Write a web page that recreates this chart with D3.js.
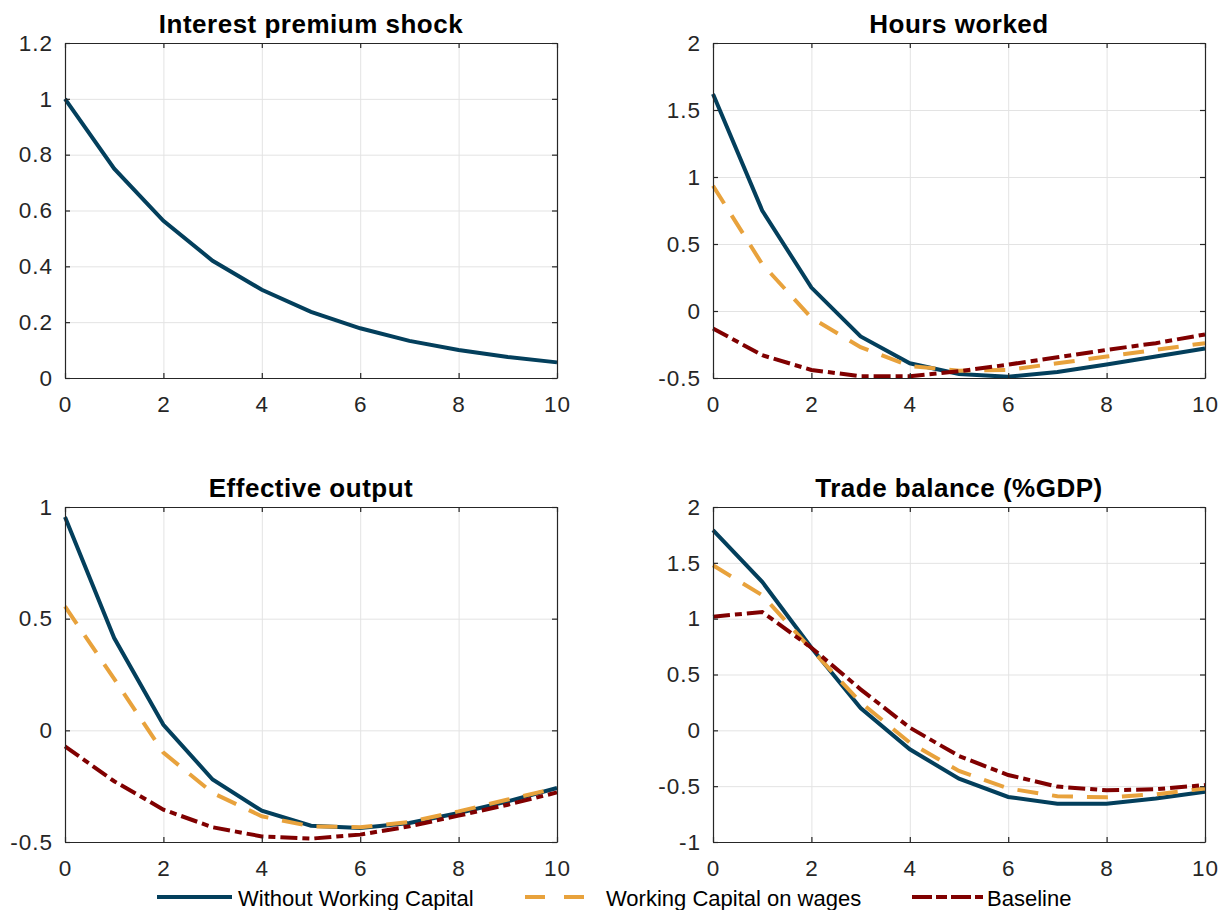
<!DOCTYPE html>
<html>
<head>
<meta charset="utf-8">
<script src="https://cdn.jsdelivr.net/npm/d3@7"></script>
<style>
  body { margin: 0; background: #fff; }
  svg { font-family: "Liberation Sans", Arial, sans-serif; }
</style>
</head>
<body>
<svg id="canvas"></svg>
<script>
const WIDTH = 1228;
const HEIGHT = 910;

// quarters after the shock
const periods = [0, 1, 2, 3, 4, 5, 6, 7, 8, 9, 10];
const xTicks = [0, 2, 4, 6, 8, 10];

const panelTitles = ["Interest premium shock", "Hours worked", "Effective output", "Trade balance (%GDP)"];
const seriesNames = ["Without Working Capital", "Working Capital on wages", "Baseline"];

const premiumShock = [1, 0.75, 0.563, 0.42, 0.316, 0.237, 0.178, 0.133, 0.1, 0.075, 0.056];

const hoursNoWC = [1.62, 0.75, 0.175, -0.19, -0.39, -0.47, -0.49, -0.455, -0.4, -0.34, -0.28];
const hoursWCWages = [0.935, 0.35, -0.05, -0.27, -0.41, -0.445, -0.44, -0.39, -0.34, -0.29, -0.24];
const hoursBaseline = [-0.13, -0.33, -0.44, -0.487, -0.487, -0.45, -0.4, -0.345, -0.29, -0.24, -0.175];

const outputNoWC = [0.955, 0.413, 0.025, -0.22, -0.36, -0.427, -0.437, -0.415, -0.37, -0.318, -0.258];
const outputWCWages = [0.555, 0.23, -0.1, -0.28, -0.385, -0.43, -0.434, -0.41, -0.363, -0.31, -0.258];
const outputBaseline = [-0.072, -0.228, -0.355, -0.434, -0.475, -0.485, -0.467, -0.43, -0.382, -0.333, -0.278];

const tradeNoWC = [1.794, 1.33, 0.74, 0.2, -0.17, -0.433, -0.597, -0.657, -0.657, -0.61, -0.55];
const tradeWCWages = [1.478, 1.21, 0.725, 0.25, -0.11, -0.364, -0.52, -0.59, -0.6, -0.573, -0.52];
const tradeBaseline = [1.018, 1.06, 0.74, 0.367, 0.024, -0.23, -0.4, -0.504, -0.537, -0.528, -0.49];

const premiumTicks = [0, 0.2, 0.4, 0.6, 0.8, 1, 1.2];
const hoursTicks = [-0.5, 0, 0.5, 1, 1.5, 2];
const outputTicks = [-0.5, 0, 0.5, 1];
const tradeTicks = [-1, -0.5, 0, 0.5, 1, 1.5, 2];

const COLORS = ["#033f5c", "#e8a23c", "#800000"];
const DASHES = [null, "21,14", "17,5,7,5"];

const panels = [
  { title: panelTitles[0], ticks: premiumTicks, series: [premiumShock], x0: 65, y0: 43 },
  { title: panelTitles[1], ticks: hoursTicks, series: [hoursNoWC, hoursWCWages, hoursBaseline], x0: 713, y0: 43 },
  { title: panelTitles[2], ticks: outputTicks, series: [outputNoWC, outputWCWages, outputBaseline], x0: 65, y0: 507 },
  { title: panelTitles[3], ticks: tradeTicks, series: [tradeNoWC, tradeWCWages, tradeBaseline], x0: 713, y0: 507 },
];
const PW = 492;
const PH = 335;

const canvas = d3.select("#canvas").attr("width", WIDTH).attr("height", HEIGHT);
canvas.append("rect").attr("width", WIDTH).attr("height", HEIGHT).attr("fill", "#fff");

const fmt = (d) => String(d);

const drawPanel = (p) => {
  const g = canvas.append("g").attr("transform", `translate(${p.x0},${p.y0})`);
  const xScale = d3.scaleLinear().domain([0, 10]).range([0, PW]);
  const yScale = d3.scaleLinear().domain(d3.extent(p.ticks)).range([PH, 0]);

  // grid
  g.append("g")
    .attr("class", "grid")
    .call(d3.axisBottom(xScale).tickValues(xTicks).tickSize(PH).tickFormat(""))
    .call((s) => s.select(".domain").remove());
  g.append("g")
    .attr("class", "grid")
    .call(d3.axisLeft(yScale).tickValues(p.ticks).tickSize(-PW).tickFormat(""))
    .call((s) => s.select(".domain").remove());
  g.selectAll(".grid line").attr("stroke", "#e3e3e3").attr("stroke-width", 1);

  // series
  const line = d3.line().x((d, i) => xScale(periods[i])).y((d) => yScale(d));
  p.series.forEach((vals, k) => {
    g.append("path")
      .datum(vals)
      .attr("fill", "none")
      .attr("stroke", COLORS[k])
      .attr("stroke-width", 4)
      .attr("stroke-dasharray", DASHES[k])
      .attr("d", line);
  });

  // axes with inward ticks
  const bottom = g.append("g").attr("transform", `translate(0,${PH})`)
    .call(d3.axisBottom(xScale).tickValues(xTicks).tickSizeInner(-5).tickSizeOuter(0).tickPadding(18).tickFormat(fmt));
  const left = g.append("g")
    .call(d3.axisLeft(yScale).tickValues(p.ticks).tickSizeInner(-5).tickSizeOuter(0).tickPadding(12).tickFormat(fmt));
  const top = g.append("g")
    .call(d3.axisTop(xScale).tickValues(xTicks).tickSizeInner(-5).tickSizeOuter(0).tickFormat(""));
  const right = g.append("g").attr("transform", `translate(${PW},0)`)
    .call(d3.axisRight(yScale).tickValues(p.ticks).tickSizeInner(-5).tickSizeOuter(0).tickFormat(""));
  [bottom, left, top, right].forEach((a) => {
    a.selectAll("path, line").attr("stroke", "#262626").attr("stroke-width", 1.2);
    a.selectAll("text").attr("fill", "#262626").style("font-size", "22.5px").style("letter-spacing", "1px");
  });

  g.append("text")
    .attr("x", PW / 2)
    .attr("y", -10)
    .attr("text-anchor", "middle")
    .attr("font-weight", "bold")
    .style("font-size", "26px")
    .style("letter-spacing", "0.5px")
    .attr("fill", "#000")
    .text(p.title);
};

panels.forEach(drawPanel);

// legend
const legendX = [157, 525, 912];
const legendLen = [75, 60, 71];
const legendDashes = [null, "20,19", "20,4,11,4"];
const legendTextX = [238, 606, 987];
const legend = canvas.append("g");
seriesNames.forEach((name, k) => {
  legend.append("line")
    .attr("x1", legendX[k]).attr("x2", legendX[k] + legendLen[k])
    .attr("y1", 897).attr("y2", 897)
    .attr("stroke", COLORS[k])
    .attr("stroke-width", 4)
    .attr("stroke-dasharray", legendDashes[k]);
  legend.append("text")
    .attr("x", legendTextX[k])
    .attr("y", 906)
    .style("font-size", "22px")
    .attr("fill", "#000")
    .text(name);
});
</script>
</body>
</html>
